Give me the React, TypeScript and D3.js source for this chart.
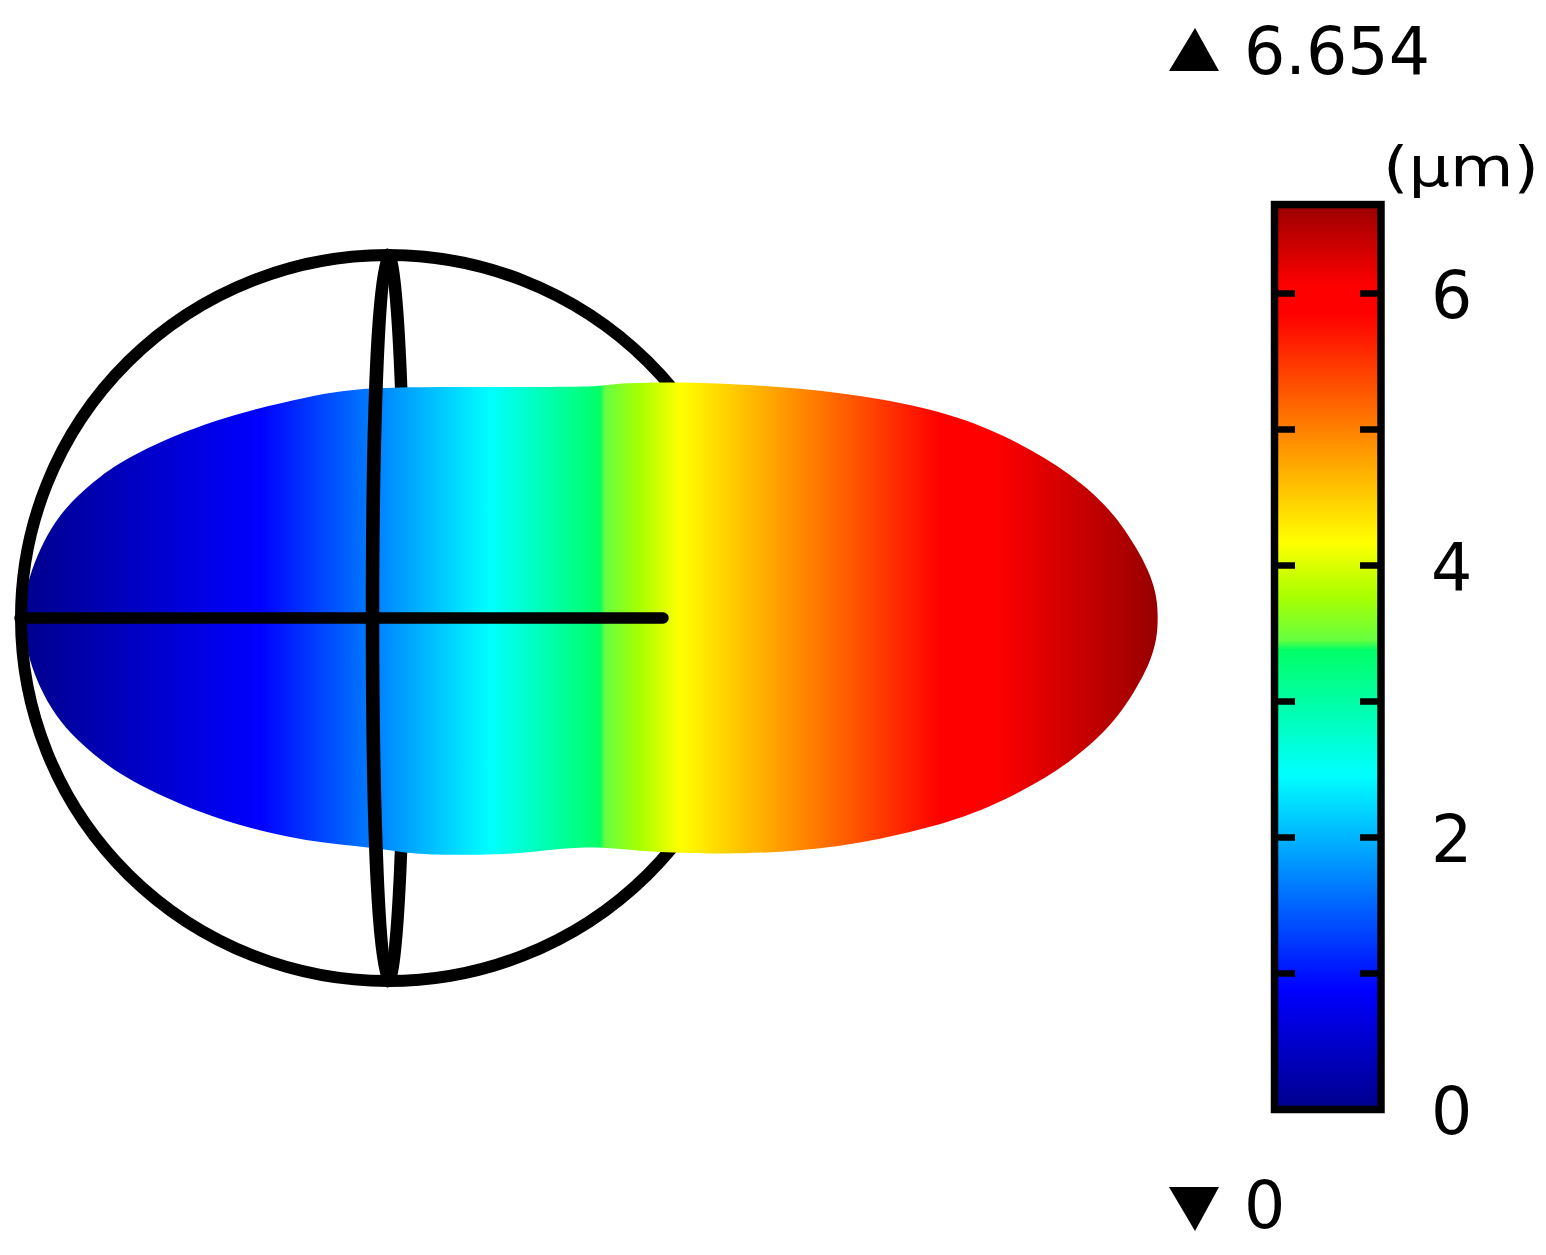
import * as d3 from "d3";

// displacement colour table (um)
const barValues = [0, 0.88, 2.46, 3.38, 3.45, 3.77, 4.17, 5.85, 6.05, 6.654];
const barColors = ["#00008c", "#0000ff", "#00ffff", "#00ff66", "#66ff40", "#a8ff00", "#ffff00", "#ff0000", "#ff0000", "#9a0000"];
// axial position (um) at which each of those values sits on the body
const bodyPositions = [0, 2.4, 4.7, 5.8, 5.85, 6.2, 6.6, 9.2, 9.75, 11.34];

const barTicks = [0, 1, 2, 3, 4, 5, 6];
const barLabels = [0, 2, 4, 6];
const maxLabel = "6.654";
const minLabel = "0";
const unitLabel = "(µm)";

// deformed outline, axial position / radial offset (um)
const topU = [0.03, 0.07, 0.17, 0.3, 0.5, 0.8, 1.13, 1.93, 2.93, 3.47, 4.6, 5.8, 5.87, 6.4, 7.0, 7.8, 8.6, 9.4, 10.0, 10.5, 10.93, 11.18, 11.31, 11.37, 11.38];
const topV = [0, 0.35, 0.62, 0.89, 1.16, 1.42, 1.64, 1.99, 2.23, 2.31, 2.31, 2.31, 2.34, 2.36, 2.35, 2.3, 2.2, 2.02, 1.75, 1.45, 1.07, 0.68, 0.42, 0.2, 0];
const bottomU = [11.37, 11.31, 11.18, 10.93, 10.5, 10.0, 9.4, 8.6, 7.8, 7.0, 6.6, 6.2, 5.8, 5.5, 5.2, 4.8, 4.1, 3.8, 3.47, 2.8, 1.93, 1.13, 0.8, 0.5, 0.3, 0.17, 0.07];
const bottomV = [-0.2, -0.42, -0.68, -1.07, -1.45, -1.75, -2.02, -2.22, -2.34, -2.36, -2.35, -2.33, -2.29, -2.3, -2.33, -2.37, -2.37, -2.34, -2.29, -2.23, -2.01, -1.65, -1.42, -1.16, -0.89, -0.63, -0.35];

// undeformed sphere
const sphereCenterU = 3.68;
const sphereRadiusU = 3.67;
const sphereRadiusV = 3.63;
const meridianFrontU = 0.155;
const meridianBackU = 0.17;
const axisEndU = 6.43;

const xPos = d3.scaleLinear().domain([0, 11.34]).range([20, 1154]);
const yPos = d3.scaleLinear().domain([-6, 6]).range([1218, 18]);
const yBar = d3.scaleLinear().domain([0, 6]).range([1109.5, 293.5]);

const outline = d3
  .line<[number, number]>()
  .x((d) => xPos(d[0]))
  .y((d) => yPos(d[1]))
  .curve(d3.curveBasisClosed);

const bodyPoints: [number, number][] = [
  ...topU.map((u, i) => [u, topV[i]] as [number, number]),
  ...bottomU.map((u, i) => [u, bottomV[i]] as [number, number]),
];

// half of an ellipse around the sphere centre, side = -1 left, 1 right
function arcPath(ru: number, rv: number, side: number) {
  const cx = xPos(sphereCenterU);
  const rx = xPos(ru) - xPos(0);
  const ry = yPos(0) - yPos(rv);
  return `M${cx},${yPos(rv)}A${rx},${ry} 0 0 ${side < 0 ? 0 : 1} ${cx},${yPos(-rv)}`;
}

const font = "'DejaVu Sans', sans-serif";

export default function App() {
  return (
    <svg
      width={1546}
      height={1255}
      viewBox="0 0 1546 1255"
      style={{ position: "absolute", left: 0, top: 0, background: "#fff" }}
    >
      <defs>
        <linearGradient id="bodyFill" gradientUnits="userSpaceOnUse" x1={xPos(0)} x2={xPos(11.34)} y1={0} y2={0}>
          {bodyPositions.map((u, i) => (
            <stop key={i} offset={u / 11.34} stopColor={barColors[i]} />
          ))}
        </linearGradient>
        <linearGradient
          id="barFill"
          gradientUnits="userSpaceOnUse"
          x1={0}
          x2={0}
          y1={yBar(0)}
          y2={yBar(6.654)}
        >
          {barValues.map((v, i) => (
            <stop key={i} offset={v / 6.654} stopColor={barColors[i]} />
          ))}
        </linearGradient>
      </defs>

      {/* sphere behind the body */}
      <path d={arcPath(sphereRadiusU, sphereRadiusV, 1)} fill="none" stroke="#000" strokeWidth={12} />
      <path d={arcPath(meridianBackU, sphereRadiusV, 1)} fill="none" stroke="#000" strokeWidth={12.5} />

      <path d={outline(bodyPoints) ?? ""} fill="url(#bodyFill)" />

      {/* front lines */}
      <path d={arcPath(sphereRadiusU, sphereRadiusV, -1)} fill="none" stroke="#000" strokeWidth={12} />
      <path d={arcPath(meridianFrontU, sphereRadiusV, -1)} fill="none" stroke="#000" strokeWidth={13.5} />
      <line
        x1={xPos(0)}
        x2={xPos(axisEndU)}
        y1={yPos(0)}
        y2={yPos(0)}
        stroke="#000"
        strokeWidth={11.5}
        strokeLinecap="round"
      />

      {/* colour bar */}
      <rect
        x={1274.5}
        y={yBar(6.654)}
        width={106.5}
        height={yBar(0) - yBar(6.654)}
        fill="url(#barFill)"
        stroke="#000"
        strokeWidth={7.5}
      />
      {barTicks.map((t) => (
        <g key={t} stroke="#000" strokeWidth={6.5}>
          <line x1={1276} x2={1295} y1={yBar(t)} y2={yBar(t)} />
          <line x1={1360} x2={1381} y1={yBar(t)} y2={yBar(t)} />
        </g>
      ))}
      {barLabels.map((t) => (
        <text key={t} x={1431} y={yBar(t) + 24} fontFamily={font} fontSize={65} fill="#000">
          {t}
        </text>
      ))}
      <text x={1383} y={186} fontFamily={font} fontSize={55} fill="#000" textLength={156} lengthAdjust="spacingAndGlyphs">
        {unitLabel}
      </text>

      {/* max / min markers */}
      <polygon points="1169,71 1219,71 1195,28" fill="#000" />
      <text x={1244} y={74} fontFamily={font} fontSize={65} fill="#000">
        {maxLabel}
      </text>
      <polygon points="1169,1187 1219,1187 1195,1231" fill="#000" />
      <text x={1244} y={1228} fontFamily={font} fontSize={65} fill="#000">
        {minLabel}
      </text>
    </svg>
  );
}
